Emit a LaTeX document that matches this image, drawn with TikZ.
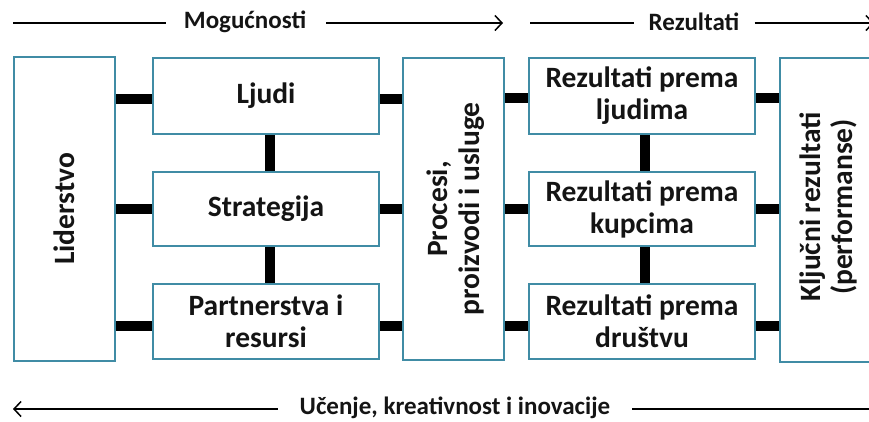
\documentclass[tikz,border=0pt]{standalone}
\usepackage{fontspec}
\setmainfont{Carlito}
\usetikzlibrary{arrows.meta}
\pgfdeclarelayer{links}
\pgfsetlayers{links,main}
\definecolor{boxline}{RGB}{64,140,165}
\definecolor{ink}{RGB}{20,20,20}
\tikzset{
  boxfont/.style={text=ink, font=\fontsize{29.5}{32}\selectfont\bfseries},
  box/.style={draw=boxline, line width=2pt, fill=white, inner sep=0pt, align=center, boxfont},
  sidelabel/.style={rotate=90, align=center, boxfont},
  conn/.style={line width=10pt, draw=black},
  flow/.style={line width=1.5pt, draw=black},
  tip/.style={-{Straight Barb[length=7pt,width=15pt,line width=1.5pt]}},
  head/.style={text=ink, font=\fontsize{25}{28}\selectfont\bfseries, inner sep=0pt}
}
\begin{document}
\begin{tikzpicture}[x=1pt,y=-1pt]
\useasboundingbox (0,0) rectangle (869,421);

% boxes
\node[box, minimum width=101pt, minimum height=304pt] (lid) at (64.5,209) {};
\node[box, minimum width=226pt, minimum height=76pt] (ljudi) at (266,96) {Ljudi};
\node[box, minimum width=226pt, minimum height=74pt] (strat) at (266,209) {Strategija};
\node[box, minimum width=226pt, minimum height=75pt] (part) at (266,321.5) {Partnerstva i\\resursi};
\node[box, minimum width=101pt, minimum height=302pt] (proc) at (453.5,209) {};
\node[box, minimum width=226pt, minimum height=76pt] (rljud) at (642,96) {Rezultati prema\\ljudima};
\node[box, minimum width=226pt, minimum height=74pt] (rkup) at (642,209) {Rezultati prema\\kupcima};
\node[box, minimum width=226pt, minimum height=75pt] (rdru) at (642,321.5) {Rezultati prema\\društvu};
\node[box, minimum width=100pt, minimum height=304pt] (kljuc) at (830,210) {};

% rotated labels
\node[sidelabel] (tlid) at (lid.center) {Liderstvo};
\node[sidelabel] (tproc) at ([xshift=2pt]proc.center) {Procesi,\\proizvodi i usluge};
\node[sidelabel] (tkljuc) at ([xshift=-2pt,yshift=3pt]kljuc.center) {Ključni rezultati\\(performanse)};

% links sit behind the boxes
\begin{pgfonlayer}{links}
% horizontal links: from box a to box b, at the height of row box r, shifted by s
\foreach \a/\b/\r/\s in {lid/ljudi/ljudi/-3, lid/strat/strat/0, lid/part/part/-4.5,
                       ljudi/proc/ljudi/-3, strat/proc/strat/0, part/proc/part/-4.5,
                       proc/rljud/rljud/-2, proc/rkup/rkup/0, proc/rdru/rdru/-4,
                       rljud/kljuc/rljud/-2, rkup/kljuc/rkup/0, rdru/kljuc/rdru/-4}{
  \draw[conn] ([yshift=\s pt]\r.center -| \a.east) -- ([yshift=\s pt]\r.center -| \b.west);
}
% vertical links
\draw[conn] ([xshift=4pt]ljudi.south) -- ([xshift=4pt]strat.north);
\draw[conn] ([xshift=4pt]strat.south) -- ([xshift=4pt]part.north);
\draw[conn] ([xshift=3pt]rljud.south) -- ([xshift=3pt]rkup.north);
\draw[conn] ([xshift=3pt]rkup.south) -- ([xshift=3pt]rdru.north);
\end{pgfonlayer}

% top flow arrows
\node[head] (mog) at (245,22) {Mogućnosti};
\node[head] (rez) at (694,22) {Rezultati};
\coordinate (m0) at (13,23);
\coordinate (m1) at (503,23);
\coordinate (r0) at (530,23);
\coordinate (r1) at (874,23);
\draw[flow] (m0) -- ([xshift=-18pt]mog.west |- m0);
\draw[flow, tip] ([xshift=20pt]mog.east |- m0) -- (m1);
\draw[flow] (r0) -- ([xshift=-15pt]rez.west |- r0);
\draw[flow, tip] ([xshift=15pt]rez.east |- r0) -- (r1);

% bottom flow arrow
\node[head] (uc) at (455,408) {Učenje, kreativnost i inovacije};
\coordinate (u0) at (13,409);
\coordinate (u1) at (869,409);
\draw[flow, tip] ([xshift=-22pt]uc.west |- u0) -- (u0);
\draw[flow] ([xshift=22pt]uc.east |- u1) -- (u1);
\end{tikzpicture}
\end{document}
